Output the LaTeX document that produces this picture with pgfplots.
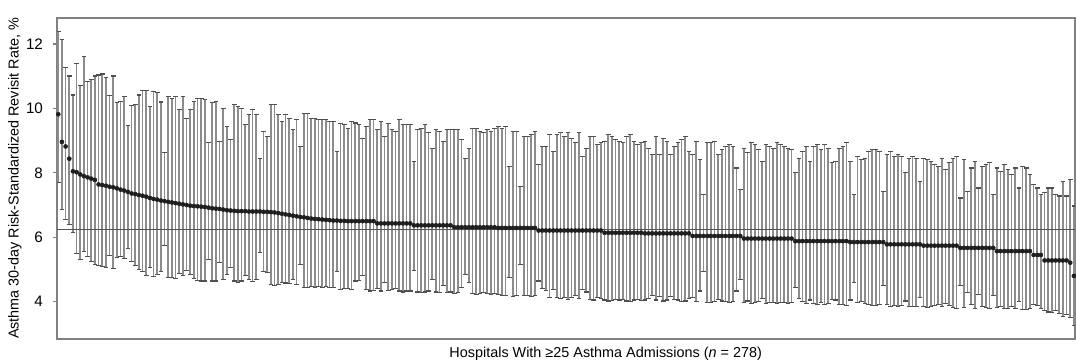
\documentclass[border=0pt]{standalone}
\usepackage{pgfplots}
\usepackage{pgfplotstable}
\pgfplotsset{compat=1.18}
\usepackage{fontspec}
\setmainfont{Liberation Sans}
\definecolor{barcol}{HTML}{8C8C8C}
\definecolor{capcol}{HTML}{505050}
\definecolor{framecol}{HTML}{808080}
\definecolor{ptcol}{HTML}{1E1E1E}
\definecolor{refcol}{HTML}{555555}
\pgfplotstableread{
x y hi lo
1 9.82 12.38 7.69
2 8.96 12.14 6.86
3 8.82 11.27 6.55
4 8.44 11.01 6.39
5 8.05 10.42 6.14
6 8.02 11.40 5.50
7 7.95 10.70 5.31
8 7.90 11.61 5.57
9 7.86 10.85 5.39
10 7.82 10.89 5.25
11 7.78 11.01 5.16
12 7.64 11.04 5.13
13 7.62 11.07 5.09
14 7.60 10.97 5.06
15 7.57 10.39 5.44
16 7.55 11.01 5.03
17 7.52 10.18 5.37
18 7.48 10.23 5.40
19 7.45 10.36 5.35
20 7.41 9.46 5.64
21 7.36 10.10 5.25
22 7.34 10.13 5.13
23 7.31 10.42 5.00
24 7.29 10.55 4.93
25 7.26 10.55 4.82
26 7.22 10.05 5.05
27 7.19 10.52 4.78
28 7.17 10.49 4.85
29 7.14 10.20 4.95
30 7.12 8.63 5.74
31 7.10 10.38 4.75
32 7.08 10.30 4.75
33 7.06 10.38 4.72
34 7.04 9.96 4.88
35 7.02 10.38 4.80
36 7.00 9.70 4.96
37 6.98 9.97 4.85
38 6.97 10.23 4.72
39 6.96 10.32 4.66
40 6.95 10.32 4.64
41 6.94 10.27 4.64
42 6.92 8.93 5.31
43 6.90 10.19 4.64
44 6.89 10.21 4.64
45 6.88 8.98 5.21
46 6.86 10.01 4.69
47 6.84 9.44 4.85
48 6.83 9.03 5.05
49 6.82 10.11 4.64
50 6.81 10.06 4.59
51 6.81 10.01 4.64
52 6.81 9.49 4.80
53 6.80 9.80 4.69
54 6.80 9.96 4.62
55 6.80 9.80 4.69
56 6.80 8.46 5.52
57 6.79 9.29 4.95
58 6.79 9.13 4.90
59 6.78 10.11 4.54
60 6.77 10.11 4.49
61 6.75 9.80 4.54
62 6.73 9.60 4.60
63 6.71 9.80 4.58
64 6.69 9.70 4.55
65 6.67 9.34 4.70
66 6.65 9.65 4.52
67 6.63 8.82 5.15
68 6.62 9.85 4.44
69 6.60 9.85 4.44
70 6.58 9.70 4.46
71 6.57 9.70 4.44
72 6.56 9.65 4.46
73 6.55 9.65 4.44
74 6.54 9.65 4.46
75 6.53 9.60 4.44
76 6.52 9.60 4.44
77 6.52 8.67 4.95
78 6.51 9.54 4.38
79 6.51 9.49 4.40
80 6.50 9.39 4.42
81 6.50 9.60 4.38
82 6.50 9.55 4.64
83 6.50 9.50 4.66
84 6.50 9.08 4.80
85 6.50 9.44 4.38
86 6.50 9.65 4.33
87 6.50 9.65 4.35
88 6.43 9.34 4.42
89 6.43 9.60 4.33
90 6.43 9.13 4.60
91 6.43 9.54 4.35
92 6.43 9.34 4.38
93 6.43 9.29 4.40
94 6.43 9.65 4.33
95 6.43 9.49 4.30
96 6.43 9.49 4.33
97 6.43 9.49 4.33
98 6.37 8.36 4.98
99 6.37 9.34 4.30
100 6.37 9.39 4.28
101 6.37 9.49 4.30
102 6.37 9.24 4.33
103 6.37 8.77 4.70
104 6.37 9.34 4.30
105 6.37 9.29 4.28
106 6.37 8.98 4.50
107 6.37 9.34 4.28
108 6.37 9.34 4.30
109 6.31 9.34 4.25
110 6.31 9.34 4.28
111 6.31 9.03 4.45
112 6.31 8.46 4.85
113 6.31 8.77 4.60
114 6.31 9.39 4.25
115 6.31 9.39 4.22
116 6.31 9.29 4.25
117 6.31 9.24 4.28
118 6.31 9.34 4.25
119 6.31 9.29 4.22
120 6.31 9.39 4.25
121 6.29 9.44 4.22
122 6.29 9.39 4.18
123 6.29 9.44 4.18
124 6.29 8.20 4.74
125 6.29 9.29 4.16
126 6.29 9.29 4.18
127 6.29 7.58 5.16
128 6.29 9.13 4.20
129 6.29 9.13 4.18
130 6.29 9.18 4.16
131 6.29 9.29 4.18
132 6.21 8.25 4.64
133 6.21 8.82 4.40
134 6.21 8.82 4.35
135 6.21 9.18 4.12
136 6.21 8.67 4.38
137 6.21 9.18 4.12
138 6.21 9.24 4.10
139 6.21 9.13 4.14
140 6.21 9.24 4.08
141 6.21 9.08 4.12
142 6.21 8.93 4.20
143 6.21 9.24 4.10
144 6.21 8.51 4.38
145 6.21 8.77 4.30
146 6.21 9.13 4.08
147 6.21 9.13 4.05
148 6.21 8.87 4.12
149 6.21 8.93 4.10
150 6.14 8.98 4.05
151 6.14 9.18 4.02
152 6.14 9.13 4.04
153 6.14 9.03 4.06
154 6.14 8.98 4.05
155 6.14 8.93 4.08
156 6.14 9.13 4.02
157 6.14 9.18 4.00
158 6.14 8.98 4.05
159 6.14 8.87 4.08
160 6.14 8.93 4.04
161 6.12 8.98 4.05
162 6.12 8.77 4.10
163 6.12 8.56 4.20
164 6.12 9.13 4.05
165 6.12 8.56 4.15
166 6.12 9.08 4.02
167 6.12 8.98 4.05
168 6.12 8.56 4.15
169 6.12 8.82 4.08
170 6.12 8.93 4.05
171 6.12 9.03 4.00
172 6.12 9.13 4.02
173 6.12 8.67 4.10
174 6.04 8.56 4.12
175 6.04 8.98 4.00
176 6.04 8.41 4.33
177 6.04 7.33 4.95
178 6.04 8.93 3.98
179 6.04 8.93 3.97
180 6.04 8.98 4.00
181 6.04 8.56 4.08
182 6.04 8.72 4.02
183 6.04 8.82 4.00
184 6.04 8.87 3.98
185 6.04 8.82 4.00
186 6.04 8.15 4.33
187 6.04 7.48 4.70
188 5.96 8.77 3.98
189 5.96 8.62 4.02
190 5.96 8.93 3.95
191 5.96 8.87 3.97
192 5.96 8.72 4.00
193 5.96 8.36 4.10
194 5.96 8.87 3.95
195 5.96 8.82 3.97
196 5.96 8.77 3.98
197 5.96 8.93 3.95
198 5.96 8.87 3.96
199 5.96 8.82 3.97
200 5.96 8.77 3.95
201 5.96 8.72 3.98
202 5.88 8.00 4.44
203 5.88 8.46 4.10
204 5.88 8.67 4.00
205 5.88 8.82 3.95
206 5.88 8.36 4.05
207 5.88 8.82 3.95
208 5.88 8.87 3.92
209 5.88 8.72 3.97
210 5.88 8.87 3.92
211 5.88 8.77 3.95
212 5.88 8.31 4.08
213 5.88 8.36 4.05
214 5.88 8.77 3.92
215 5.88 8.82 3.90
216 5.88 8.93 3.88
217 5.85 8.36 4.05
218 5.85 7.33 4.59
219 5.85 8.51 3.97
220 5.85 8.41 4.00
221 5.85 8.46 3.95
222 5.85 8.67 3.90
223 5.85 8.72 3.88
224 5.85 8.72 3.87
225 5.85 8.67 3.90
226 5.85 7.43 4.49
227 5.78 8.56 3.90
228 5.78 8.67 3.85
229 5.78 8.51 3.88
230 5.78 8.56 3.86
231 5.78 8.51 3.88
232 5.78 8.00 4.02
233 5.78 8.46 3.85
234 5.78 8.51 3.84
235 5.78 8.46 3.85
236 5.78 7.74 4.12
237 5.74 8.46 3.85
238 5.74 8.41 3.82
239 5.74 8.36 3.84
240 5.74 8.25 3.88
241 5.74 8.20 3.90
242 5.74 8.46 3.85
243 5.74 8.10 3.95
244 5.74 8.31 3.87
245 5.74 8.46 3.82
246 5.74 8.51 3.80
247 5.67 7.22 4.49
248 5.67 8.41 3.82
249 5.67 7.43 4.28
250 5.67 8.15 3.90
251 5.67 8.36 3.80
252 5.67 7.53 4.23
253 5.67 8.20 3.84
254 5.67 8.25 3.82
255 5.67 8.31 3.80
256 5.67 7.33 4.18
257 5.57 8.15 3.82
258 5.57 8.05 3.85
259 5.57 8.25 3.78
260 5.57 8.10 3.80
261 5.57 7.95 3.85
262 5.57 8.15 3.78
263 5.57 7.53 4.00
264 5.57 8.20 3.75
265 5.57 8.15 3.77
266 5.57 7.95 3.80
267 5.45 7.64 3.90
268 5.45 7.53 3.88
269 5.45 7.33 3.80
270 5.28 7.38 3.72
271 5.28 7.53 3.68
272 5.28 7.53 3.65
273 5.28 7.33 3.72
274 5.28 7.28 3.62
275 5.28 7.74 3.55
276 5.28 7.28 3.60
277 5.21 7.79 3.50
278 4.80 6.97 3.25
}\data
\begin{document}
\begin{tikzpicture}
\begin{axis}[
  name=ax,
  scale only axis,
  width=509pt, height=160.5pt,
  xmin=0.65, xmax=278.3,
  ymin=2.84, ymax=12.81,
  xtick=\empty,
  ytick={4,6,8,10,12},
  tick align=outside,
  major tick length=2pt,
  every tick/.style={draw=framecol, line width=0.6pt},
  axis line style={draw=framecol, line width=0.8pt},
  /pgf/number format/assume math mode=true,
  yticklabel style={font=\fontsize{7.6}{9}\selectfont, xshift=-1.5pt},
  ylabel={Asthma 30-day Risk-Standardized Revisit Rate, \%},
  ylabel style={font=\fontsize{7.2}{8.5}\selectfont, at={(axis description cs:-0.0413,0.5)}, anchor=center},
  xlabel={Hospitals With ≥25 Asthma Admissions (\textit{n} = 278)},
  xlabel style={font=\fontsize{7.2}{8.5}\selectfont, at={(axis description cs:0.539,0)}, anchor=center, yshift=-7.5pt},
]
\addplot[draw=none, no markers, forget plot,
  error bars/.cd, y dir=both, y explicit,
  error mark=|,
  error bar style={draw=barcol, line width=0.85pt},
  error mark options={draw=capcol, line width=0.55pt, mark size=1.15pt}]
  table[x=x, y=y, y error plus expr=\thisrow{hi}-\thisrow{y}, y error minus expr=\thisrow{y}-\thisrow{lo}] {\data};
\addplot[refcol, line width=0.75pt, no markers, forget plot] coordinates {(0.65,6.24) (278.3,6.24)};
\addplot[only marks, mark=*, forget plot, mark options={scale=0.5, draw=ptcol, fill=ptcol, line width=0.3pt}] table[x=x, y=y] {\data};
\end{axis}
\pgfresetboundingbox
\path ([shift={(-28.5pt,-12.5pt)}]ax.south west) rectangle ([shift={(0.5pt,9pt)}]ax.north east);
\end{tikzpicture}
\end{document}
